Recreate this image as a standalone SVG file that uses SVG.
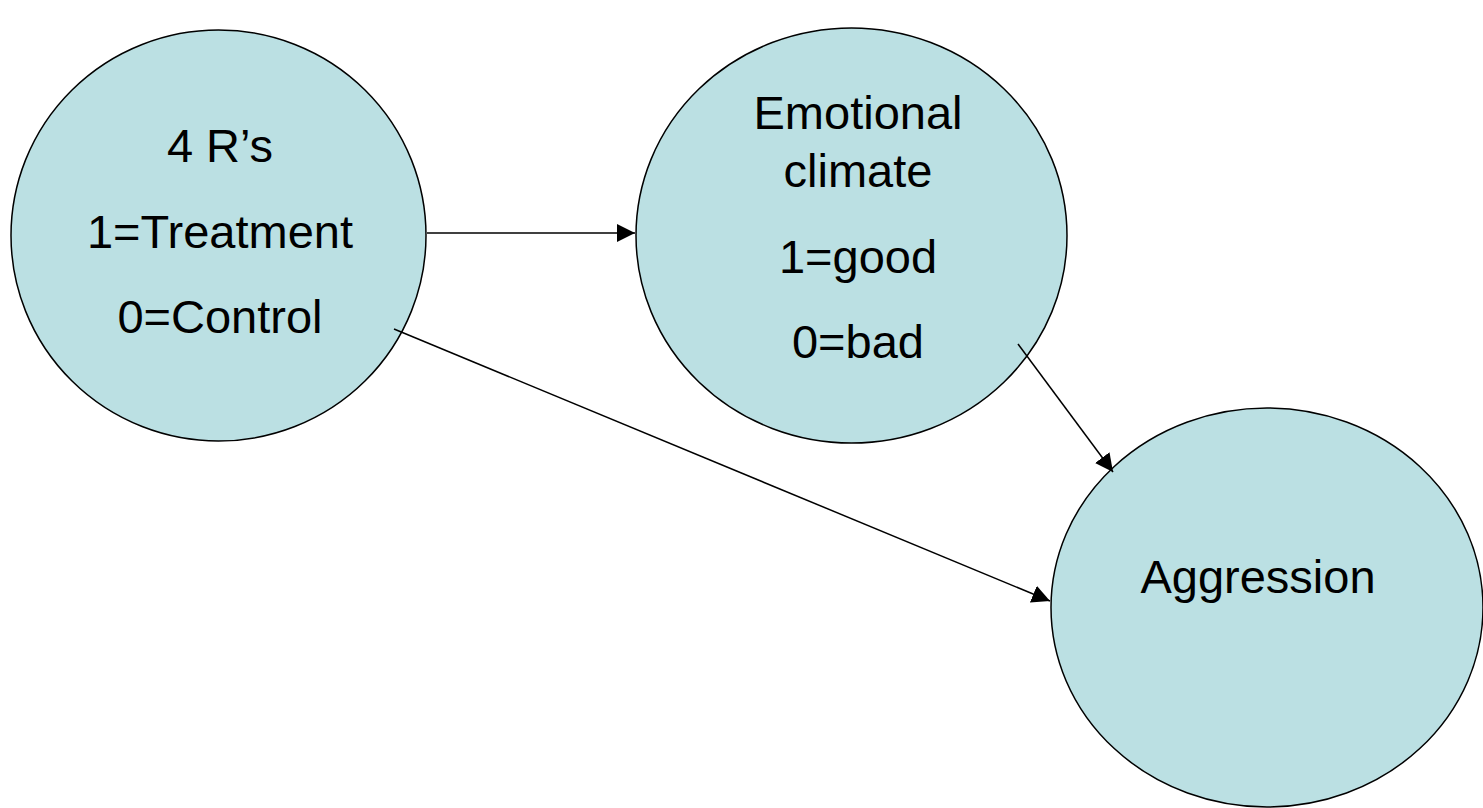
<svg xmlns="http://www.w3.org/2000/svg" width="1483" height="808" viewBox="0 0 1483 808">
  <style>
    .node { fill: #BBE0E3; stroke: #000; stroke-width: 1.5; }
    .label { font-family: "Liberation Sans", Arial, sans-serif; font-size: 47px; fill: #000; text-anchor: middle; }
    .edge { stroke: #000; stroke-width: 1.5; fill: none; marker-end: url(#arrow); }
  </style>
  <defs>
    <marker id="arrow" markerUnits="userSpaceOnUse" markerWidth="18" markerHeight="18" viewBox="0 0 16 16" refX="16" refY="8" orient="auto">
      <path d="M0,0 L16,8 L0,16 Z" fill="#000"/>
    </marker>
  </defs>
  <rect width="1483" height="808" fill="#fff"/>

  <g id="node-4rs">
    <ellipse class="node" cx="218.5" cy="235.5" rx="207.5" ry="205.5"/>
    <text class="label" x="220" y="162">4 R’s</text>
    <text class="label" x="220" y="248">1=Treatment</text>
    <text class="label" x="220" y="333">0=Control</text>
  </g>

  <g id="node-emotional-climate">
    <ellipse class="node" cx="851.5" cy="235.5" rx="215.5" ry="207.5"/>
    <text class="label" x="858" y="129">Emotional</text>
    <text class="label" x="858" y="187">climate</text>
    <text class="label" x="858" y="273">1=good</text>
    <text class="label" x="858" y="358">0=bad</text>
  </g>

  <g id="node-aggression">
    <ellipse class="node" cx="1267" cy="607.5" rx="216" ry="199.5"/>
    <text class="label" x="1258" y="593">Aggression</text>
  </g>

  <g id="connectors">
    <line class="edge" x1="427" y1="233" x2="635" y2="233"/>
    <line class="edge" x1="1018" y1="344" x2="1113" y2="472"/>
    <line class="edge" x1="394" y1="329" x2="1050" y2="601"/>
  </g>
</svg>
